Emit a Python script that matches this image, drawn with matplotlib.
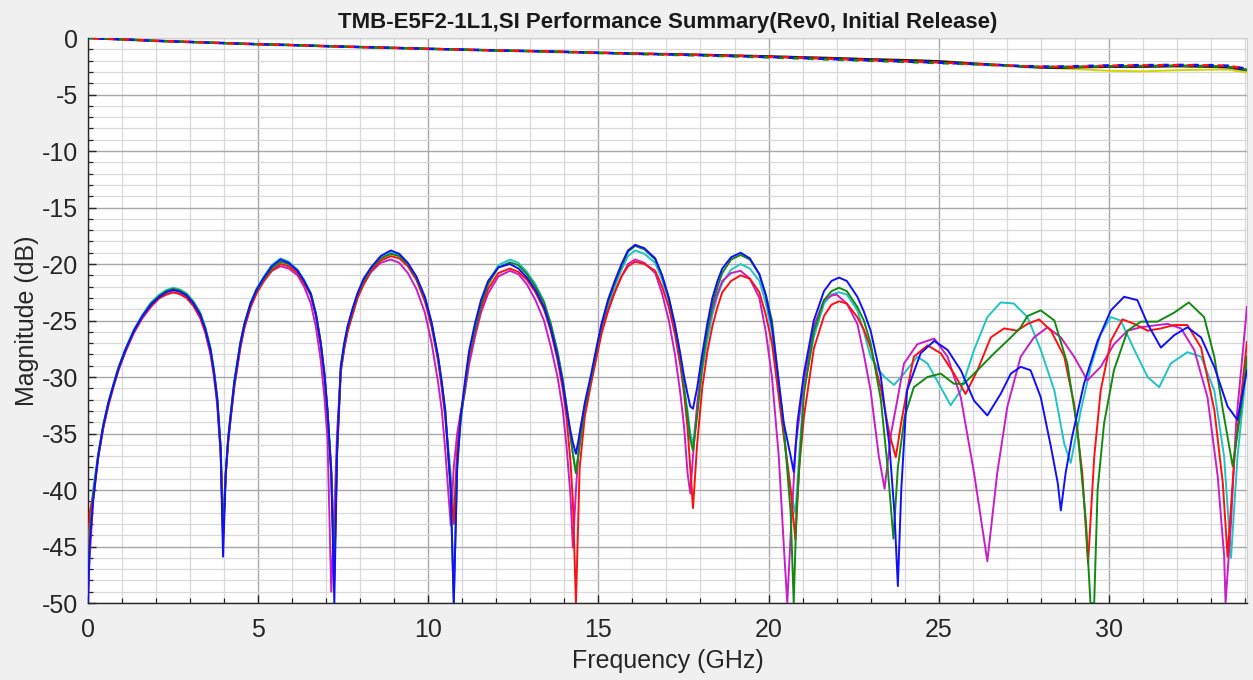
import matplotlib
matplotlib.use("Agg")
import matplotlib.pyplot as plt
from matplotlib.ticker import MultipleLocator

plt.rcParams['font.family'] = ['Liberation Sans', 'DejaVu Sans']
plt.rcParams['axes.unicode_minus'] = False

TITLE = "TMB-E5F2-1L1,SI Performance Summary(Rev0, Initial Release)"
XLABEL = "Frequency (GHz)"
YLABEL = "Magnitude (dB)"

# ---------------- insertion loss (top curves) ----------------
il_freq = [0, 1, 2, 3, 4, 5, 6, 7, 8, 9, 10, 11, 12, 13, 14, 15, 16, 17, 18, 19, 20,
           21, 22, 23, 24, 25, 26, 27, 27.5, 28, 28.5, 29, 30, 31, 32, 33, 33.5, 34.06]
il_black = [0, -0.12, -0.25, -0.35, -0.45, -0.55, -0.62, -0.72, -0.8, -0.87, -0.95, -1.02,
            -1.1, -1.15, -1.22, -1.3, -1.37, -1.42, -1.48, -1.55, -1.62,
            -1.7, -1.78, -1.88, -1.95, -2.05, -2.25, -2.42, -2.55, -2.62, -2.65, -2.6,
            -2.55, -2.55, -2.5, -2.55, -2.6, -2.85]
il_red = [0, -0.12, -0.25, -0.35, -0.45, -0.55, -0.63, -0.72, -0.8, -0.88, -0.96, -1.03,
          -1.1, -1.16, -1.23, -1.3, -1.38, -1.44, -1.5, -1.57, -1.65,
          -1.75, -1.85, -1.95, -2.05, -2.15, -2.3, -2.45, -2.5, -2.55, -2.55, -2.55,
          -2.45, -2.42, -2.4, -2.42, -2.45, -2.75]
il_blue = [0, -0.12, -0.25, -0.35, -0.45, -0.55, -0.63, -0.72, -0.8, -0.88, -0.96, -1.03,
           -1.1, -1.16, -1.23, -1.31, -1.39, -1.45, -1.52, -1.6, -1.68,
           -1.78, -1.88, -1.98, -2.08, -2.18, -2.3, -2.42, -2.48, -2.52, -2.52, -2.5,
           -2.42, -2.4, -2.38, -2.4, -2.45, -2.72]
il_green = [0, -0.12, -0.25, -0.35, -0.45, -0.55, -0.63, -0.72, -0.8, -0.88, -0.96, -1.03,
            -1.1, -1.17, -1.25, -1.33, -1.41, -1.48, -1.55, -1.63, -1.72,
            -1.82, -1.92, -2.02, -2.12, -2.22, -2.33, -2.45, -2.5, -2.55, -2.55, -2.55,
            -2.5, -2.48, -2.45, -2.48, -2.55, -2.8]
il_yellow = [0, -0.12, -0.25, -0.35, -0.45, -0.55, -0.62, -0.72, -0.8, -0.87, -0.95, -1.02,
             -1.1, -1.15, -1.22, -1.3, -1.37, -1.42, -1.48, -1.55, -1.62,
             -1.7, -1.78, -1.88, -1.95, -2.05, -2.25, -2.42, -2.52, -2.6, -2.68, -2.75,
             -2.9, -2.95, -2.85, -2.8, -2.8, -3.05]

# ---------------- return loss (lower curves) ----------------
# shared frequency samples for 0 - 20.1 GHz
rl_freq_lo = [
    0.0, 0.05, 0.15, 0.3, 0.45, 0.6, 0.75, 0.9, 1.1, 1.35, 1.6, 1.85, 2.1, 2.3, 2.5, 2.7,
    2.9, 3.1, 3.3, 3.45, 3.6, 3.7, 3.8, 3.9, 3.97,
    4.05, 4.12, 4.19, 4.3, 4.48, 4.6, 4.78, 4.95, 5.17, 5.4, 5.66, 5.9, 6.16, 6.35, 6.55,
    6.7, 6.84, 6.95, 7.04, 7.15, 7.24,
    7.32, 7.43, 7.53, 7.63, 7.78, 7.92, 8.1, 8.32, 8.6, 8.9, 9.15, 9.4, 9.65, 9.9, 10.1,
    10.29, 10.4, 10.5, 10.66, 10.75,
    10.85, 10.95, 11.07, 11.2, 11.37, 11.55, 11.76, 12.06, 12.4, 12.65, 12.9, 13.15, 13.4,
    13.6, 13.8, 13.95, 14.06, 14.18, 14.25, 14.34,
    14.45, 14.6, 14.79, 14.95, 15.09, 15.28, 15.48, 15.68, 15.87, 16.08, 16.35, 16.67,
    16.87, 17.07, 17.25, 17.41, 17.52, 17.62, 17.7, 17.78,
    17.9, 18.05, 18.2, 18.35, 18.5, 18.64, 18.9, 19.18, 19.45, 19.73, 19.92, 20.1]

blue_lo = [
    -50, -45, -41, -37, -34.3, -32.3, -30.7, -29.2, -27.6, -25.9, -24.6, -23.6, -22.9, -22.5,
    -22.3, -22.45, -22.8, -23.5, -24.5, -25.8, -27.6, -29.5, -32.0, -36.5, -45.9,
    -38.5, -35.5, -33.5, -30.5, -27.0, -25.3, -23.5, -22.3, -21.2, -20.2, -19.6, -19.9, -20.6,
    -21.5, -22.7, -24.5, -27.0, -29.8, -33.0, -38.5, -50,
    -36.5, -29.0, -27.0, -25.5, -23.9, -22.6, -21.3, -20.3, -19.3, -18.8, -19.1, -19.9, -21.1,
    -22.9, -25.2, -28.2, -30.5, -33.0, -40, -50,
    -38, -33.5, -30.6, -27.7, -25.3, -23.2, -21.5, -20.3, -20.0, -20.4, -21.2, -22.3, -23.8,
    -25.7, -28.2, -30.5, -32.7, -34.8, -35.8, -36.8,
    -35.0, -32.3, -29.7, -27.3, -25.3, -23.2, -21.5, -20.0, -18.8, -18.3, -18.6, -19.5, -21.0,
    -23.0, -25.4, -28.0, -30.0, -31.5, -32.6, -32.8,
    -31.0, -28.0, -25.3, -23.0, -21.5, -20.4, -19.4, -19.0, -19.5, -20.9, -22.8, -25.5]
blue_hi_f = [20.45, 20.65, 20.74, 20.85, 21.04, 21.33, 21.63, 21.85, 22.07, 22.3, 22.61, 22.8,
             23.0, 23.3, 23.55, 23.7, 23.8, 23.9, 24.07, 24.47, 24.87, 25.26, 25.65, 26.04,
             26.43, 26.82, 27.12, 27.41, 27.7, 28.0, 28.3, 28.5, 28.59, 28.73, 28.92, 29.27,
             29.67, 30.06, 30.45, 30.84, 31.14, 31.53, 31.92, 32.31, 32.71, 33.1, 33.49, 33.78,
             34.06]
blue_hi = [-34.1, -37, -38.4, -34, -29.7, -25.0, -22.4, -21.5, -21.2, -21.5, -22.9, -24.2,
           -25.9, -30.0, -36, -42, -48.5, -40, -31.2, -27.9, -26.8, -27.6, -29.4, -32.1, -33.4,
           -31.5, -29.7, -29.1, -29.4, -31.8, -36.2, -39.4, -41.8, -38.5, -35.3, -30.6, -26.8,
           -24.1, -22.9, -23.2, -25.3, -27.4, -26.3, -25.6, -26.5, -29.1, -32.6, -33.8, -29.4]

green_lo = [
    -48, -44, -40.5, -37, -34.3, -32.3, -30.7, -29.2, -27.6, -25.9, -24.6, -23.5, -22.8, -22.4,
    -22.2, -22.35, -22.7, -23.4, -24.4, -25.7, -27.5, -29.4, -31.9, -36.3, -44.3,
    -38.5, -35.5, -33.5, -30.5, -27.0, -25.3, -23.5, -22.4, -21.3, -20.4, -19.8, -20.0, -20.6,
    -21.5, -22.6, -24.4, -26.9, -29.7, -33.0, -38.5, -48,
    -36.5, -29.2, -27.2, -25.6, -24.0, -22.7, -21.5, -20.4, -19.5, -19.1, -19.3, -20.0, -21.2,
    -23.0, -25.3, -28.3, -30.6, -33.0, -40, -50,
    -38, -34, -31.0, -28.0, -25.8, -23.6, -21.8, -20.3, -19.85, -20.1, -20.9, -22.0, -23.4,
    -25.3, -27.8, -30.2, -32.5, -35.2, -36.8, -38.5,
    -36, -32.6, -30.0, -27.5, -25.5, -23.4, -21.7, -20.2, -18.9, -18.4, -18.7, -19.6, -21.0,
    -23.0, -25.5, -28.2, -31.0, -33.5, -35.5, -36.5,
    -33.5, -29.0, -26.0, -23.6, -22.0, -20.8, -19.6, -19.2, -19.6, -20.9, -22.7, -25.0]
green_hi_f = [20.45, 20.65, 20.74, 20.82, 21.04, 21.33, 21.63, 21.85, 22.07, 22.3, 22.61, 22.8,
              23.0, 23.3, 23.5, 23.67, 23.8, 24.0, 24.27, 24.67, 25.06, 25.45, 25.74, 26.14,
              26.63, 27.12, 27.41, 27.61, 28.0, 28.4, 28.78, 29.08, 29.33, 29.46, 29.57, 29.67,
              29.86, 30.15, 30.55, 30.94, 31.43, 31.92, 32.35, 32.8, 33.1, 33.35, 33.64, 33.88,
              34.06]
green_hi = [-34.5, -42, -50, -42, -31.5, -26.0, -23.2, -22.4, -22.1, -22.4, -23.8, -25.0,
            -27.0, -32.0, -38, -44.3, -38, -33.5, -30.9, -30.0, -29.7, -30.6, -30.6, -29.4,
            -27.9, -26.5, -25.6, -24.6, -24.1, -25.0, -28.8, -34.7, -42.9, -50, -50, -40, -34.1,
            -29.4, -25.9, -25.1, -25.1, -24.3, -23.4, -24.7, -28.2, -32.9, -37.9, -32.9, -28.2]

red_lo = [
    -50, -42.0, -40.5, -37, -34.5, -32.5, -30.8, -29.3, -27.7, -26.0, -24.7, -23.7, -23.0,
    -22.7, -22.5, -22.65, -23.0, -23.7, -24.7, -26.0, -27.8, -29.7, -32.2, -36.5, -44.0,
    -38.5, -35.7, -33.7, -30.8, -27.3, -25.6, -23.8, -22.6, -21.5, -20.6, -20.0, -20.2, -20.8,
    -21.7, -22.8, -24.6, -27.2, -30.0, -33.2, -38.5, -47,
    -37, -29.5, -27.5, -26.0, -24.4, -23.0, -21.8, -20.6, -19.7, -19.3, -19.5, -20.2, -21.4,
    -23.3, -25.6, -28.6, -31.0, -33.5, -39.5, -43.0,
    -36.5, -33.5, -31.0, -28.3, -26.0, -23.9, -22.2, -20.8, -20.4, -20.7, -21.4, -22.5, -24.0,
    -25.9, -28.5, -31.0, -33.5, -37.5, -41, -50,
    -38, -33.5, -30.5, -28.2, -26.2, -24.2, -22.5, -21.1, -20.2, -19.8, -20.0, -20.6, -22.0,
    -23.8, -26.2, -29.0, -31.5, -34.5, -38.0, -41.6,
    -36.0, -31.0, -27.8, -25.5, -23.8, -22.5, -21.5, -21.0, -21.3, -22.5, -24.5, -27.0]
red_hi_f = [20.45, 20.65, 20.79, 20.9, 21.04, 21.33, 21.63, 21.85, 22.07, 22.3, 22.61, 22.8,
            23.0, 23.3, 23.55, 23.74, 23.9, 24.07, 24.27, 24.67, 25.06, 25.45, 25.79, 26.14,
            26.53, 26.92, 27.31, 27.61, 27.95, 28.3, 28.69, 28.98, 29.22, 29.39, 29.57, 29.76,
            30.06, 30.4, 30.75, 31.14, 31.53, 31.92, 32.31, 32.71, 33.1, 33.35, 33.49, 33.69,
            34.06]
red_hi = [-35.3, -40, -44.4, -38, -33.5, -27.5, -24.6, -23.6, -23.3, -23.5, -24.7, -25.8,
          -27.4, -31.0, -35, -37.1, -34, -31.2, -28.2, -27.2, -27.9, -29.7, -31.5, -29.4,
          -26.5, -25.7, -25.9, -25.3, -24.9, -25.9, -28.2, -32.4, -38.5, -46.5, -37.1, -31.2,
          -26.8, -24.9, -25.3, -25.9, -25.7, -25.4, -25.4, -27.4, -32.9, -39.4, -45.9, -37.1,
          -26.9]

cyan_lo = [
    -45, -43, -40, -36.8, -34.2, -32.2, -30.6, -29.1, -27.5, -25.8, -24.5, -23.4, -22.7, -22.3,
    -22.1, -22.25, -22.6, -23.3, -24.3, -25.6, -27.4, -29.3, -31.8, -36.0, -43.0,
    -38.5, -35.3, -33.3, -30.3, -26.9, -25.2, -23.4, -22.2, -21.1, -20.1, -19.5, -19.8, -20.5,
    -21.4, -22.6, -24.4, -27.0, -29.8, -33.0, -38, -46,
    -36.5, -29.3, -27.2, -25.7, -24.1, -22.8, -21.6, -20.5, -19.5, -19.0, -19.2, -20.0, -21.2,
    -23.0, -25.3, -28.4, -30.9, -33.5, -38.5, -42.0,
    -37, -34, -31.0, -28.0, -25.8, -23.5, -21.7, -20.1, -19.6, -19.9, -20.7, -21.8, -23.3,
    -25.3, -27.8, -30.2, -32.5, -35.2, -36.8, -38.5,
    -36, -32.8, -30.2, -27.8, -25.8, -23.8, -22.0, -20.5, -19.3, -18.8, -19.1, -19.9, -21.4,
    -23.3, -25.7, -28.3, -31.0, -33.0, -35.0, -35.9,
    -33.0, -29.5, -26.8, -24.5, -22.8, -21.7, -20.5, -20.0, -20.4, -21.5, -23.5, -26.0]
cyan_hi_f = [20.45, 20.65, 20.79, 20.9, 21.04, 21.33, 21.63, 21.85, 22.07, 22.3, 22.61, 22.8,
             23.0, 23.24, 23.41, 23.69, 23.98, 24.37, 24.67, 25.06, 25.35, 25.65, 26.04, 26.43,
             26.82, 27.21, 27.61, 28.0, 28.4, 28.69, 28.88, 29.18, 29.47, 29.76, 30.06, 30.35,
             30.75, 31.14, 31.48, 31.82, 32.31, 32.71, 33.1, 33.39, 33.59, 33.78, 34.06]
cyan_hi = [-35.0, -40, -42.1, -37, -31.0, -26.5, -23.5, -22.7, -22.5, -22.7, -24.1, -26.0,
           -28.2, -29.4, -30.0, -30.7, -29.7, -28.2, -28.8, -30.9, -32.5, -31.2, -27.6, -24.7,
           -23.4, -23.5, -24.7, -27.6, -31.2, -35.9, -37.6, -32.9, -29.1, -26.2, -24.7, -25.0,
           -27.6, -30.0, -30.9, -28.8, -27.8, -28.2, -31.2, -37.1, -46.0, -37.1, -28.8]

magenta_lo = [
    -49, -46, -41, -37.2, -34.5, -32.5, -30.9, -29.4, -27.8, -26.1, -24.8, -23.8, -23.0, -22.7,
    -22.5, -22.65, -23.0, -23.7, -24.8, -26.1, -28.0, -29.9, -32.5, -37, -44.0,
    -38.5, -35.8, -33.8, -30.9, -27.4, -25.6, -23.8, -22.6, -21.5, -20.6, -20.2, -20.4, -21.0,
    -22.0, -23.5, -25.6, -28.5, -31.8, -35.5, -49, -42,
    -35, -29.5, -27.5, -25.9, -24.4, -23.0, -21.8, -20.7, -19.9, -19.6, -19.9, -20.8, -22.2,
    -24.3, -27.0, -30.5, -33.0, -36.5, -43.1, -38,
    -35, -33.2, -31.5, -28.9, -26.5, -24.3, -22.6, -21.1, -20.6, -20.9, -21.8, -23.2, -25.0,
    -27.3, -30.0, -32.8, -36.0, -40.5, -45.1, -40,
    -35, -32.5, -30.2, -28.0, -26.0, -24.1, -22.5, -21.1, -20.0, -19.6, -19.9, -20.8, -22.6,
    -25.0, -28.0, -31.5, -34.5, -38.5, -40.3, -37,
    -32.5, -28.5, -26.0, -24.0, -22.6, -21.5, -20.8, -20.6, -21.3, -23.0, -26.0, -30.0]
magenta_hi_f = [20.3, 20.45, 20.55, 20.65, 20.8, 21.04, 21.33, 21.63, 21.85, 22.0, 22.3, 22.61,
                22.8, 23.0, 23.24, 23.41, 23.6, 23.75, 23.98, 24.37, 24.87, 25.26, 25.65, 26.04,
                26.43, 26.72, 27.02, 27.41, 27.8, 28.2, 28.59, 28.98, 29.37, 29.76, 30.15, 30.55,
                30.94, 31.43, 31.73, 32.12, 32.51, 32.9, 33.2, 33.39, 33.43, 33.59, 33.74, 34.06]
magenta_hi = [-37, -45, -50, -44, -36, -30.3, -25.5, -23.2, -22.8, -22.7, -23.5, -25.3, -28.0,
              -31.2, -37.0, -39.9, -35, -32.6, -28.8, -27.1, -26.6, -28.2, -31.8, -38.5, -46.3,
              -38.5, -32.6, -28.2, -26.5, -25.6, -26.5, -28.2, -30.3, -29.1, -27.1, -25.9, -25.6,
              -25.4, -25.3, -25.7, -27.6, -31.8, -38.8, -45.9, -50, -42.9, -34.1, -23.8]

X_MAX = 34.06

fig = plt.figure(figsize=(12.53, 6.80), dpi=100, facecolor='#f0f0f0')
ax = fig.add_axes([0.0702, 0.1132, 0.9250, 0.8309])
ax.set_facecolor('white')

rl_series = [
    (cyan_lo, cyan_hi_f, cyan_hi, '#1fc4c4'),
    (magenta_lo, magenta_hi_f, magenta_hi, '#c81ec8'),
    (red_lo, red_hi_f, red_hi, '#ff1010'),
    (green_lo, green_hi_f, green_hi, '#128a12'),
    (blue_lo, blue_hi_f, blue_hi, '#1010ff'),
]
for lo, hf, hv, col in rl_series:
    ax.plot(list(rl_freq_lo) + list(hf), list(lo) + list(hv), color=col, lw=1.4,
            solid_joinstyle='round', zorder=3)

ax.plot(il_freq, il_yellow, color='#d4d400', lw=1.4, zorder=4)
ax.plot(il_freq, il_black, color='#202020', lw=1.6, zorder=4)
ax.plot(il_freq, il_green, color='#128a12', lw=1.8, ls=(0, (2.5, 3.5)), zorder=5)
ax.plot(il_freq, il_blue, color='#1010ff', lw=1.8, ls=(2.0, (2.5, 3.5)), zorder=5)
ax.plot(il_freq, il_red, color='#ff1010', lw=1.8, ls=(4.0, (2.5, 3.5)), zorder=6)

ax.set_xlim(0, X_MAX)
ax.set_ylim(-50, 0)
ax.xaxis.set_major_locator(MultipleLocator(5))
ax.xaxis.set_minor_locator(MultipleLocator(1))
ax.yaxis.set_major_locator(MultipleLocator(5))
ax.yaxis.set_minor_locator(MultipleLocator(1))
ax.grid(True, which='major', color='#a8a8a8', lw=1.0, zorder=0)
ax.grid(True, which='minor', color='#d9d9d9', lw=0.9, zorder=0)
ax.set_axisbelow(True)
ax.tick_params(which='both', direction='in', colors='#262626', labelsize=18,
               top=False, right=False)
ax.tick_params(axis='x', which='major', length=6, width=1, pad=11)
ax.tick_params(axis='y', which='major', length=6, width=1, pad=7)
ax.tick_params(which='minor', length=3.5, width=0.9)
for s in ['left', 'bottom']:
    ax.spines[s].set_color('#262626')
    ax.spines[s].set_linewidth(1.0)
for s in ['top', 'right']:
    ax.spines[s].set_color('#d0d0d0')
    ax.spines[s].set_linewidth(0.8)

ax.set_xlabel(XLABEL, fontsize=18, color='#262626', labelpad=5)
ax.set_ylabel(YLABEL, fontsize=18, color='#262626', labelpad=2)
ax.set_title(TITLE, fontsize=16, fontweight='bold', color='#1a1a1a', pad=7)

fig.savefig('out.png', dpi=100, facecolor=fig.get_facecolor())
